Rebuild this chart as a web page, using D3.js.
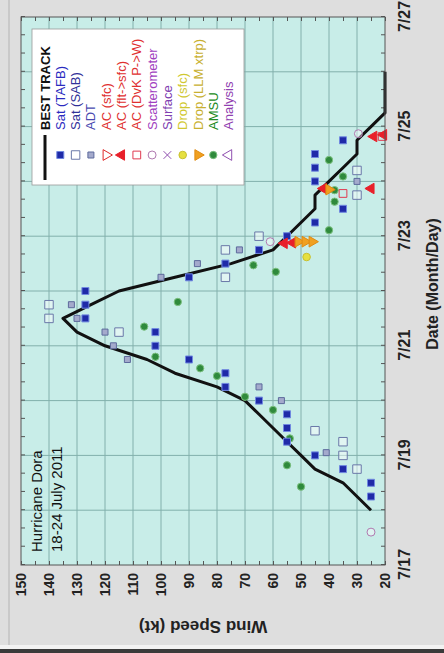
<!DOCTYPE html>
<html><head><meta charset="utf-8">
<script src="https://cdn.jsdelivr.net/npm/d3@7"></script>
<style>html,body{margin:0;padding:0;background:#dedede;} svg{display:block}</style>
</head><body>
<script>
// ---------- DATA ----------
const titleLines = ["Hurricane Dora", "18-24 July 2011"];
const dateTickValues = [17, 19, 21, 23, 25, 27];
const dateTickLabels = ["7/17", "7/19", "7/21", "7/23", "7/25", "7/27"];
const windTicks = [20, 30, 40, 50, 60, 70, 80, 90, 100, 110, 120, 130, 140, 150];

// Best track, 6-hourly (day of July, kt)
const bestTrackTime = [18, 18.25, 18.5, 18.75, 19, 19.25, 19.5, 19.75, 20, 20.25, 20.5, 20.75, 21, 21.25, 21.5, 21.75, 22, 22.25, 22.5, 22.75, 23, 23.25, 23.5, 23.75, 24, 24.25, 24.5, 24.75, 25, 25.25, 25.5, 25.75, 26];
const bestTrackWind = [25, 30, 35, 45, 50, 55, 60, 65, 70, 80, 95, 105, 120, 130, 135, 125, 115, 95, 75, 60, 55, 50, 45, 45, 40, 35, 30, 30, 25, 20, 20, 20, 20];

const satTAFB = [[18.25,25],[18.5,25],[18.75,35],[19,45],[19.25,55],[19.5,55],[19.75,55],[20,65],[20.25,77],[20.5,77],[20.75,90],[21,102],[21.25,102],[21.5,127],[21.75,127],[22,127],[22.25,90],[22.5,77],[22.75,65],[23,55],[23.25,45],[23.5,35],[24,45],[24.25,45],[24.5,45],[24.75,35]];
const satSAB = [[18.75,30],[19,35],[19.25,35],[19.45,45],[21.25,115],[21.5,140],[21.75,140],[22.25,77],[22.75,77],[23,65],[23.75,30],[24.2,30]];
const adt = [[19.05,41],[20,57],[20.25,65],[20.75,112],[21,117],[21.25,120],[21.5,130],[21.75,132],[22.25,100],[22.5,87],[22.75,72],[24,30]];
const acSfc = [];
const acFltSfc = [[22.87,56],[22.88,53],[23.87,42],[23.87,25],[24.82,24],[24.85,20.5]];
const acDvK = [[23.78,35],[24.82,21]];
const scatterometer = [[17.6,25],[22.9,61],[24.87,29.5]];
const surface = [];
const dropSfc = [[22.62,48]];
const dropLLM = [[22.9,51],[22.9,48.5],[22.9,46],[23.85,40]];
const amsu = [[18.43,50],[18.82,55],[19.31,54],[19.83,60],[20.07,70],[20.45,80],[20.59,86],[20.8,102],[21.35,106],[21.8,94],[22.35,59],[22.47,67],[23.11,40],[23.63,38],[23.84,38],[24.09,35],[24.39,40]];
const analysis = [];

const legendLabels = ["BEST TRACK","Sat (TAFB)","Sat (SAB)","ADT","AC (sfc)","AC (flt->sfc)","AC (DvK P->W)","Scatterometer","Surface","Drop (sfc)","Drop (LLM xtrp)","AMSU","Analysis"];

// ---------- STYLES ----------
const FONT = "'Liberation Sans', Arial, Helvetica, sans-serif";
const styles = {
  "Sat (TAFB)":     {type:"square", size:49, fill:"#1f2aa8", stroke:"#7088e0", sw:1, text:"#2a2ac0"},
  "Sat (SAB)":      {type:"square", size:72, fill:"rgba(255,255,255,0.45)", stroke:"#6a78a8", sw:1, text:"#303098"},
  "ADT":            {type:"square", size:36, fill:"#a4aacc", stroke:"#5d6a9c", sw:1, text:"#4a4ab0"},
  "AC (sfc)":       {type:"tridown", size:50, fill:"none", stroke:"#e02828", sw:1, text:"#e03030"},
  "AC (flt->sfc)":  {type:"triup", size:48, fill:"#e8202a", stroke:"#e8202a", sw:1, text:"#e03030"},
  "AC (DvK P->W)":  {type:"square", size:60, fill:"none", stroke:"#e03a50", sw:1, text:"#e03030"},
  "Scatterometer":  {type:"circle", size:50, fill:"rgba(255,255,255,0.4)", stroke:"#b07ab0", sw:1, text:"#a040c0"},
  "Surface":        {type:"cross", size:40, fill:"none", stroke:"#9050b0", sw:1, text:"#8040b0"},
  "Drop (sfc)":     {type:"circle", size:45, fill:"#e6e040", stroke:"#c8c030", sw:1, text:"#d0c830"},
  "Drop (LLM xtrp)":{type:"tridown", size:50, fill:"#f0a020", stroke:"#e08a10", sw:1, text:"#c8b030"},
  "AMSU":           {type:"circle", size:42, fill:"#2f8a3c", stroke:"#7cc080", sw:1, text:"#208a20"},
  "Analysis":       {type:"triup", size:50, fill:"none", stroke:"#9050b0", sw:1, text:"#9040b0"}
};
const seriesData = {
  "Sat (TAFB)": satTAFB, "Sat (SAB)": satSAB, "ADT": adt, "AC (sfc)": acSfc,
  "AC (flt->sfc)": acFltSfc, "AC (DvK P->W)": acDvK, "Scatterometer": scatterometer,
  "Surface": surface, "Drop (sfc)": dropSfc, "Drop (LLM xtrp)": dropLLM,
  "AMSU": amsu, "Analysis": analysis
};
const drawOrder = ["Sat (SAB)","ADT","Scatterometer","AMSU","Sat (TAFB)","Drop (sfc)","AC (DvK P->W)","AC (flt->sfc)","Drop (LLM xtrp)","AC (sfc)","Surface","Analysis"];

function symPath(st){
  const t = st.type;
  const ty = t==="square"?d3.symbolSquare: t==="circle"?d3.symbolCircle: t==="cross"?d3.symbolX: d3.symbolTriangle;
  return d3.symbol().type(ty).size(st.size)();
}
function symRot(st){ return st.type==="tridown" ? " rotate(180)" : ""; }

// ---------- CHART ----------
const svg = d3.select("body").append("svg").attr("width",444).attr("height",653);
svg.append("rect").attr("width",444).attr("height",653).attr("fill","#dedede");
svg.append("rect").attr("x",8).attr("y",0).attr("width",2).attr("height",645).attr("fill","#c9c9c9");
svg.append("rect").attr("x",0).attr("y",645).attr("width",444).attr("height",4).attr("fill","#f2f2f2");
svg.append("rect").attr("x",0).attr("y",649).attr("width",444).attr("height",4).attr("fill","#3a3a3a");

// chart is drawn in its natural frame (653 x 444) and rotated
const g = svg.append("g").attr("transform","translate(0,653) rotate(-90)");
const x = d3.scaleLinear().domain([17, 27]).range([88, 636]);
const y = d3.scaleLinear().domain([20, 150]).range([385, 21]);

g.append("rect").attr("x",x(17)).attr("y",y(150)).attr("width",x(27)-x(17)).attr("height",y(20)-y(150)).attr("fill","#c8ede8");

// grid
g.append("g").selectAll("line").data(windTicks.slice(1,-1)).join("line")
  .attr("x1",x(17)).attr("x2",x(27)).attr("y1",d=>y(d)).attr("y2",d=>y(d))
  .attr("stroke","#82b0ac").attr("stroke-width",1);
g.append("g").selectAll("line").data(d3.range(18,27)).join("line")
  .attr("x1",d=>x(d)).attr("x2",d=>x(d)).attr("y1",y(20)).attr("y2",y(150))
  .attr("stroke","#82b0ac").attr("stroke-width",1);

// minor ticks (inward)
const dayTicks = d3.range(0,31).map(i=>17+i/3);
const ktTicks = d3.range(20,151,5);
const clean = a => { a.select(".domain").remove(); a.selectAll(".tick line").attr("stroke","#555"); };
g.append("g").attr("transform",`translate(0,${y(20)})`).call(d3.axisBottom(x).tickValues(dayTicks).tickSizeInner(-4).tickSizeOuter(0).tickFormat("")).call(clean);
g.append("g").attr("transform",`translate(0,${y(150)})`).call(d3.axisTop(x).tickValues(dayTicks).tickSizeInner(-4).tickSizeOuter(0).tickFormat("")).call(clean);
g.append("g").attr("transform",`translate(${x(17)},0)`).call(d3.axisLeft(y).tickValues(ktTicks).tickSizeInner(-4).tickSizeOuter(0).tickFormat("")).call(clean);
g.append("g").attr("transform",`translate(${x(27)},0)`).call(d3.axisRight(y).tickValues(ktTicks).tickSizeInner(-4).tickSizeOuter(0).tickFormat("")).call(clean);

// tick labels
g.append("g").attr("transform",`translate(0,${y(20)})`)
  .call(d3.axisBottom(x).tickValues(dateTickValues).tickFormat((d,i)=>dateTickLabels[i]).tickSize(0).tickPadding(0))
  .call(a=>{ a.select(".domain").remove();
    a.selectAll("text").attr("y",25).attr("dy",null).attr("fill","#222")
     .style("font-family",FONT).style("font-size","16px").style("font-weight","bold"); });
g.append("g").attr("transform",`translate(${x(17)},0)`)
  .call(d3.axisLeft(y).tickValues(windTicks).tickSize(0).tickPadding(8))
  .call(a=>{ a.select(".domain").remove();
    a.selectAll("text").attr("fill","#222")
     .style("font-family",FONT).style("font-size","14px").style("font-weight","bold"); });

// axis titles
g.append("text").attr("x",369).attr("y",438).attr("text-anchor","middle")
  .style("font-family",FONT).style("font-size","16px").style("font-weight","bold").attr("fill","#222")
  .text("Date (Month/Day)");
g.append("text").attr("transform",`translate(32,${(y(20)+y(150))/2}) rotate(-90)`).attr("text-anchor","middle")
  .style("font-family",FONT).style("font-size","17px").style("font-weight","bold").attr("fill","#222")
  .text("Wind Speed (kt)");

// title
g.append("g").selectAll("text").data(titleLines).join("text")
  .attr("x",101).attr("y",(d,i)=>42+i*20)
  .style("font-family",FONT).style("font-size","15px").attr("fill","#111")
  .text(d=>d);

// best track line
const bt = bestTrackTime.map((t,i)=>[t,bestTrackWind[i]]);
g.append("path").datum(bt)
  .attr("d", d3.line().x(d=>x(d[0])).y(d=>y(d[1])))
  .attr("fill","none").attr("stroke","#111").attr("stroke-width",3).attr("stroke-linejoin","round");

// observation markers
drawOrder.forEach(name=>{
  const st = styles[name];
  g.append("g").selectAll("path").data(seriesData[name]).join("path")
    .attr("d", symPath(st))
    .attr("transform", d=>`translate(${x(d[0])},${y(d[1])})${symRot(st)}`)
    .attr("fill", st.fill).attr("stroke", st.stroke).attr("stroke-width", st.sw);
});

// plot frame
g.append("rect").attr("x",x(17)).attr("y",y(150)).attr("width",x(27)-x(17)).attr("height",y(20)-y(150))
  .attr("fill","none").attr("stroke","#555").attr("stroke-width",1);

// legend
const lg = g.append("g");
lg.append("rect").attr("x",468).attr("y",32).attr("width",156).attr("height",212)
  .attr("fill","#ffffff").attr("stroke","#999").attr("stroke-width",0.8);
legendLabels.forEach((lab,i)=>{
  const cy = 45 + i*15.3;
  if (i===0){
    lg.append("line").attr("x1",473).attr("x2",518).attr("y1",cy).attr("y2",cy).attr("stroke","#111").attr("stroke-width",3);
  } else {
    const st = styles[lab];
    lg.append("path").attr("d",symPath(st)).attr("transform",`translate(498,${cy})${symRot(st)}`)
      .attr("fill",st.fill.startsWith("rgba")?"none":st.fill)
      .attr("stroke",st.stroke).attr("stroke-width",st.sw);
  }
  lg.append("text").attr("x",523).attr("y",cy+4.5)
    .style("font-family",FONT).style("font-size","13px").style("white-space","pre")
    .style("font-weight", i===0 ? "bold" : "normal")
    .attr("fill", i===0 ? "#111" : styles[lab].text).text(lab);
});
</script>
</body></html>
